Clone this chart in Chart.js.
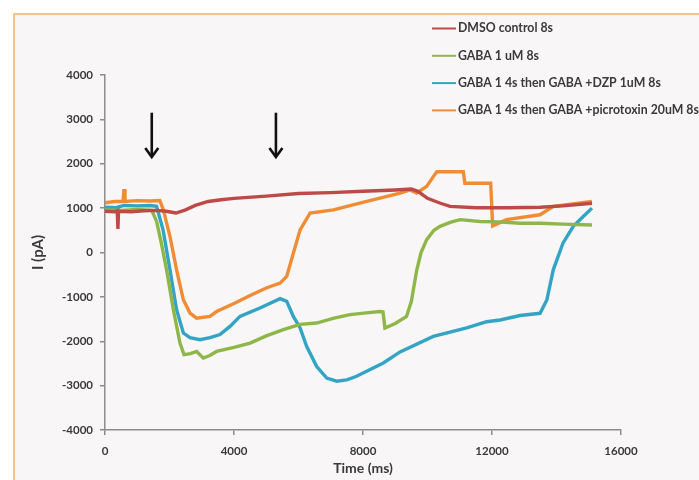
<!DOCTYPE html>
<html>
<head>
<meta charset="utf-8">
<script src="https://cdn.jsdelivr.net/npm/chart.js@4.4.0/dist/chart.umd.min.js"></script>
<style>
  html, body { margin: 0; padding: 0; background: #ffffff; width: 699px; height: 480px; overflow: hidden; }
  #frame { position: absolute; left: 13px; top: 13px; width: 720px; height: 500px; border: 2px solid #f2c48e; background: #f8f6f7; }
  #c { position: absolute; left: 0; top: 0; }
</style>
</head>
<body>
<div id="frame"></div>
<canvas id="c" width="699" height="480"></canvas>
<script>
// ---- Data (time in ms, current in pA) ----
const seriesLabels = [
  'DMSO control 8s',
  'GABA 1 uM 8s',
  'GABA 1 4s then GABA +DZP 1uM 8s',
  'GABA 1 4s then GABA +picrotoxin 20uM 8s'
];
const seriesColors = ['#bd4a47', '#8fb648', '#33a4c4', '#f08c34'];

const dmsoT = [0, 300, 380, 400, 420, 800, 1200, 1600, 1900, 2200, 2500, 2800, 3200, 3600, 4000, 5000, 6000, 7000, 8000, 9000, 9500, 9700, 10000, 10400, 10700, 11500, 12500, 13500, 14200, 15100];
const dmsoV = [930, 920, 940, 530, 930, 920, 940, 950, 930, 890, 960, 1060, 1150, 1190, 1220, 1270, 1330, 1350, 1380, 1410, 1430, 1380, 1220, 1110, 1040, 1010, 1010, 1020, 1050, 1110];

const gabaT = [0, 500, 1000, 1450, 1600, 1750, 1910, 2120, 2325, 2450, 2650, 2840, 3050, 3250, 3460, 4000, 4500, 5000, 5530, 6050, 6560, 7100, 7600, 8100, 8530, 8620, 8680, 9000, 9350, 9500, 9665, 9800, 9975, 10200, 10390, 10700, 11010, 11630, 12200, 12870, 13500, 14200, 15100];
const gabaV = [960, 950, 970, 950, 700, 200, -390, -1290, -2040, -2300, -2280, -2230, -2380, -2320, -2230, -2140, -2040, -1880, -1740, -1620, -1590, -1480, -1400, -1360, -1330, -1340, -1700, -1600, -1440, -1100, -400, 0, 290, 500, 590, 680, 740, 700, 690, 660, 660, 640, 620];

const dzpT = [0, 380, 400, 420, 600, 1000, 1400, 1600, 1800, 2015, 2220, 2430, 2635, 2945, 3255, 3565, 3875, 4185, 4805, 5430, 5635, 5840, 6050, 6255, 6565, 6875, 7185, 7500, 7800, 8630, 9150, 10180, 11215, 11835, 12250, 12870, 13490, 13700, 13900, 14200, 14520, 14830, 15100];
const dzpV = [1020, 1010, 750, 1030, 1060, 1050, 1060, 1040, 510, -390, -1290, -1815, -1920, -1965, -1920, -1850, -1665, -1440, -1250, -1040, -1100, -1440, -1700, -2120, -2570, -2830, -2900, -2870, -2790, -2490, -2240, -1890, -1700, -1560, -1520, -1420, -1370, -1070, -390, 210, 590, 810, 1000];

const picroT = [0, 300, 560, 590, 620, 1000, 1400, 1700, 1810, 2015, 2220, 2430, 2635, 2840, 3255, 3460, 4000, 4500, 5000, 5430, 5635, 5840, 6050, 6360, 7080, 8115, 9150, 9460, 9665, 9975, 10180, 10290, 11110, 11160, 11960, 12020, 12450, 13490, 13900, 15100];
const picroV = [1120, 1150, 1150, 1430, 1150, 1170, 1160, 1170, 960, 360, -390, -1065, -1365, -1480, -1440, -1330, -1150, -970, -800, -690, -540, -15, 510, 890, 960, 1150, 1340, 1410, 1340, 1490, 1710, 1820, 1820, 1560, 1560, 600, 740, 850, 1040, 1150];

// Arrow annotations (time in ms, current in pA)
const arrowTimes = [1450, 5300];
const arrowTop = 3150;
const arrowBottom = 2150;

// Axis ticks
const xTicks = [0, 4000, 8000, 12000, 16000];
const yTicks = [-4000, -3000, -2000, -1000, 0, 1000, 2000, 3000, 4000];

const FONT = 'Lato, "Open Sans", sans-serif';
const TXT = '#3a3a3a';
const AX = '#8c8c8c';

function pts(t, v) { return t.map((x, i) => ({ x: x, y: v[i] })); }
const allT = [dmsoT, gabaT, dzpT, picroT];
const allV = [dmsoV, gabaV, dzpV, picroV];

const datasets = seriesLabels.map((lab, i) => ({
  label: lab,
  data: pts(allT[i], allV[i]),
  borderColor: seriesColors[i],
  backgroundColor: seriesColors[i],
  borderWidth: 3.4,
  pointRadius: 0,
  tension: 0,
  showLine: true,
  fill: false
}));

const arrowPlugin = {
  id: 'arrows',
  afterDatasetsDraw(chart) {
    const { ctx, scales: { x, y } } = chart;
    ctx.save();
    ctx.strokeStyle = '#111';
    ctx.lineWidth = 2.6;
    ctx.lineCap = 'butt';
    arrowTimes.forEach(t => {
      const px = x.getPixelForValue(t);
      const y0 = y.getPixelForValue(arrowTop);
      const y1 = y.getPixelForValue(arrowBottom);
      ctx.beginPath();
      ctx.moveTo(px, y0);
      ctx.lineTo(px, y1 - 1);
      ctx.stroke();
      ctx.beginPath();
      ctx.lineJoin = 'miter';
      ctx.moveTo(px - 6.5, y1 - 9);
      ctx.lineTo(px, y1);
      ctx.lineTo(px + 6.5, y1 - 9);
      ctx.stroke();
    });
    ctx.restore();
  }
};

const legendPlugin = {
  id: 'customLegend',
  afterDraw(chart) {
    const { ctx } = chart;
    ctx.save();
    ctx.font = 'bold 12.3px ' + FONT;
    ctx.textBaseline = 'middle';
    ctx.textAlign = 'left';
    chart.data.datasets.forEach((ds, i) => {
      const yy = 28.5 + i * 27.3;
      ctx.strokeStyle = ds.borderColor;
      ctx.lineWidth = 2;
      ctx.beginPath();
      ctx.moveTo(432, yy);
      ctx.lineTo(456, yy);
      ctx.stroke();
      ctx.fillStyle = TXT;
      ctx.fillText(ds.label, 458, yy);
    });
    ctx.restore();
  }
};

new Chart(document.getElementById('c'), {
  type: 'scatter',
  data: { datasets: datasets },
  options: {
    responsive: false,
    animation: false,
    layout: { padding: { top: 75, right: 78, left: 0, bottom: 0 } },
    plugins: { legend: { display: false }, tooltip: { enabled: false } },
    scales: {
      x: {
        type: 'linear',
        min: 0, max: 16000,
        afterFit(s) { s.height = 50; },
        afterBuildTicks(s) { s.ticks = xTicks.map(v => ({ value: v })); },
        ticks: { color: TXT, font: { family: FONT, weight: 'bold', size: 11.5 }, padding: 9, maxRotation: 0, callback: v => String(v) },
        grid: { display: true, drawOnChartArea: false, drawTicks: true, tickLength: 5, color: AX, lineWidth: 1.5 },
        border: { display: true, color: AX, width: 1.5 },
        title: { display: true, text: 'Time (ms)', color: TXT, font: { family: FONT, weight: 'bold', size: 14 }, padding: { top: 0, bottom: 3.6 } }
      },
      y: {
        type: 'linear',
        min: -4000, max: 4000,
        afterFit(s) { s.width = 105; },
        afterBuildTicks(s) { s.ticks = yTicks.map(v => ({ value: v })); },
        ticks: { color: TXT, font: { family: FONT, weight: 'bold', size: 11.5 }, padding: 7, callback: v => String(v) },
        grid: { display: true, drawOnChartArea: false, drawTicks: true, tickLength: 5, color: AX, lineWidth: 1.5 },
        border: { display: true, color: AX, width: 1.5 },
        title: { display: true, text: 'I (pA)', color: TXT, font: { family: FONT, weight: 'bold', size: 15 }, padding: { top: 29, bottom: 0 } }
      }
    }
  },
  plugins: [arrowPlugin, legendPlugin]
});
</script>
</body>
</html>
